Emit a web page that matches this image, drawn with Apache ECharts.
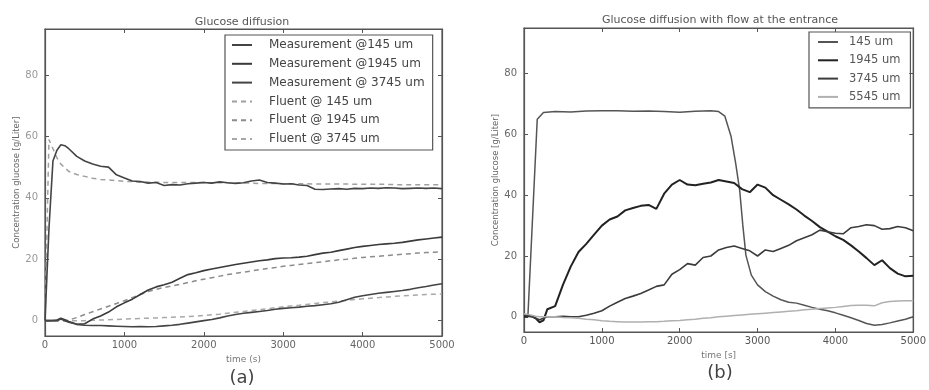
<!DOCTYPE html>
<html>
<head>
<meta charset="utf-8">
<script src="https://cdn.jsdelivr.net/npm/echarts@6/dist/echarts.min.js"></script>
<style>
  html, body { margin: 0; padding: 0; background: #fff; }
  #main { width: 929px; height: 390px; }
</style>
</head>
<body>
<div id="main"></div>
<script>
// time grid (s) for panel (a) and most of panel (b)
const timeGrid = [0, 50, 100, 150, 200, 250, 300,
  400, 500, 600, 700, 800, 900, 1000, 1100, 1200, 1300, 1400, 1500, 1600, 1700, 1800, 1900,
  2000, 2100, 2200, 2300, 2400, 2500, 2600, 2700, 2800, 2900, 3000, 3100, 3200, 3300, 3400,
  3500, 3600, 3700, 3800, 3900, 4000, 4100, 4200, 4300, 4400, 4500, 4600, 4700, 4800, 4900, 5000]

// panel (a) - glucose diffusion
const meas145 = [0, 30, 52, 55.5, 57.3, 57, 56,
  53.5, 52, 51, 50.3, 50, 47.5, 46.5, 45.5, 45.3, 44.8, 45, 44, 44.3, 44.2, 44.6, 44.8,
  45, 44.8, 45.2, 44.9, 44.7, 44.9, 45.5, 45.8, 45, 44.8, 44.5, 44.6, 44.2, 44, 42.8,
  42.7, 42.9, 43, 42.8, 43.1, 43, 43.2, 43.1, 43.3, 43.2, 43, 43.1, 43.2, 43.1, 43.2, 43]
const meas1945 = [0, 0, 0, 0.2, 0.8, 0.3, -0.3,
  -1.2, -1, 0.5, 1.5, 2.8, 4.5, 5.8, 7, 8.5, 10, 11, 11.7, 12.5, 13.8, 15, 15.6,
  16.3, 16.8, 17.3, 17.8, 18.3, 18.7, 19.1, 19.5, 19.8, 20.2, 20.4, 20.5, 20.7, 21, 21.5,
  22, 22.3, 22.8, 23.3, 23.8, 24.2, 24.5, 24.8, 25, 25.2, 25.5, 25.9, 26.3, 26.6, 26.9, 27.2]
const meas3745 = [0, 0, 0, 0, 0.5, 0, -0.5,
  -1.2, -1.5, -1.6, -1.6, -1.7, -1.8, -1.9, -2, -1.9, -2, -1.9, -1.7, -1.5, -1.2, -0.8, -0.4,
  0, 0.4, 0.9, 1.5, 2, 2.4, 2.7, 3, 3.3, 3.7, 4, 4.2, 4.4, 4.7, 4.9,
  5.2, 5.5, 6, 6.8, 7.6, 8.1, 8.5, 8.9, 9.2, 9.5, 9.8, 10.2, 10.7, 11.1, 11.6, 12]
const fluent145 = [0, 59, 56, 53, 51, 49.8, 48.6,
  47.6, 47, 46.4, 46, 45.8, 45.6, 45.4, 45.3, 45.2, 45.1, 45.1, 45, 45, 45, 45, 45,
  45, 44.9, 44.9, 44.9, 44.8, 44.8, 44.8, 44.7, 44.7, 44.7, 44.6, 44.6, 44.6, 44.6, 44.5,
  44.5, 44.5, 44.5, 44.5, 44.4, 44.4, 44.4, 44.4, 44.4, 44.3, 44.3, 44.3, 44.3, 44.3, 44.3, 44.3]
const fluent1945 = [0, 0, 0, 0, 0, 0, 0.2,
  1, 2, 2.9, 3.8, 4.7, 5.6, 6.5, 7.5, 8.5, 9.5, 10.2, 10.8, 11.3, 11.8, 12.4, 13,
  13.5, 14, 14.5, 15, 15.4, 15.8, 16.2, 16.6, 17, 17.3, 17.7, 18, 18.3, 18.6, 18.9,
  19.2, 19.5, 19.8, 20, 20.3, 20.6, 20.8, 21, 21.2, 21.4, 21.6, 21.8, 22, 22.2, 22.3, 22.5]
const fluent3745 = [0, 0, 0, 0, 0, 0, 0,
  0, 0, 0.1, 0.2, 0.3, 0.4, 0.5, 0.6, 0.7, 0.8, 0.9, 1, 1.1, 1.2, 1.3, 1.5,
  1.7, 1.9, 2.1, 2.4, 2.7, 3, 3.3, 3.6, 3.9, 4.2, 4.5, 4.8, 5, 5.3, 5.6,
  5.9, 6.1, 6.4, 6.6, 6.9, 7.1, 7.3, 7.5, 7.7, 7.9, 8.1, 8.2, 8.4, 8.5, 8.6, 8.7]

// panel (b) - with flow at the entrance
const time145 = [0, 50, 70, 170, 250, 400, 600, 800, 1000, 1200, 1400, 1600, 1800, 2000, 2200, 2400,
  2500, 2580, 2660, 2720, 2770, 2810, 2850, 2920,
  3000, 3100, 3200, 3300, 3400, 3500, 3600, 3700, 3800, 3900, 4000,
  4100, 4200, 4300, 4400, 4500, 4600, 4700, 4800, 4900, 5000]
const flow145 = [0.5, 0.2, 0, 65, 67.2, 67.5, 67.4, 67.7, 67.8, 67.8, 67.6, 67.7, 67.5, 67.3, 67.6, 67.8,
  67.5, 66, 59.3, 50.3, 41.7, 30.3, 20.3, 13.7,
  10.5, 8.3, 6.8, 5.6, 4.8, 4.5, 3.8, 3.1, 2.5, 2, 1.3,
  0.5, -0.3, -1.2, -2.2, -2.8, -2.5, -2, -1.4, -0.8, 0]
const flow1945 = [0, 0.2, 0.2, -0.5, -1.8, -1.2, 2.5,
  3.5, 10.5, 16.5, 21.3, 24, 27, 30, 32, 33, 35, 35.8, 36.5, 36.8, 35.5, 40.5, 43.5,
  45, 43.5, 43.3, 43.8, 44.2, 45, 44.5, 44, 42, 41, 43.5, 42.5, 40, 38.5, 37,
  35.3, 33.3, 31.5, 29.5, 28, 26.5, 25.3, 23.5, 21.5, 19.3, 17, 18.6, 16, 14.2, 13.3, 13.5]
const flow3745 = [0.5, 0.3, 0, -0.5, -1, -0.5, 0,
  0, 0.2, 0, 0, 0.5, 1.2, 2, 3.5, 4.8, 6, 6.8, 7.7, 8.8, 10, 10.5, 14,
  15.5, 17.5, 17, 19.5, 20, 22, 22.8, 23.3, 22.5, 21.7, 20, 22, 21.5, 22.5, 23.5,
  25, 26, 27, 28.5, 28, 27.5, 27.3, 29.3, 29.7, 30.3, 30, 28.8, 29, 29.7, 29.3, 28.3]
const flow5545 = [1, 0.8, 0.5, 0.2, 0, 0, 0,
  0, -0.2, -0.3, -0.5, -0.8, -1, -1.3, -1.5, -1.6, -1.7, -1.7, -1.7, -1.6, -1.6, -1.5, -1.3,
  -1.2, -1, -0.8, -0.5, -0.3, 0, 0.2, 0.4, 0.6, 0.8, 1, 1.2, 1.4, 1.6, 1.8,
  2, 2.3, 2.5, 2.7, 2.9, 3.1, 3.4, 3.7, 3.8, 3.8, 3.6, 4.6, 5, 5.2, 5.3, 5.3]

const yTicks = [0, 20, 40, 60, 80]

const zip = (xs, ys) => xs.map((x, i) => [x, ys[i]])

const font = 'DejaVu Sans'
const chart = echarts.init(document.getElementById('main'))

function xAx (grid, name, pos, labelColor) {
  const main = pos === 'bottom'
  return {
    type: 'value', gridIndex: grid, position: pos, min: 0, max: 5000, interval: 1000,
    name: main ? name : '', nameLocation: 'middle', nameGap: 15,
    nameTextStyle: { fontFamily: font, fontSize: 9, color: '#777' },
    axisLine: { show: true, onZero: false, lineStyle: { color: '#555', width: 1.2 } },
    axisTick: { show: true, inside: true, length: 4, lineStyle: { color: '#555' } },
    axisLabel: { show: main, margin: 4, fontFamily: font, fontSize: 10, color: labelColor,
      formatter: (v) => String(v) },
    splitLine: { show: false }
  }
}

function yAx (grid, name, pos, labelColor) {
  const main = pos === 'left'
  return {
    type: 'value', gridIndex: grid, position: pos, min: -5, max: 95,
    name: main ? name : '', nameLocation: 'middle', nameGap: 24, nameRotate: 90,
    nameTextStyle: { fontFamily: font, fontSize: 8.5, color: '#666' },
    axisLine: { show: true, onZero: false, lineStyle: { color: '#555', width: 1.2 } },
    axisTick: { show: true, inside: true, length: 4, customValues: yTicks, lineStyle: { color: '#555' } },
    axisLabel: { show: main, margin: 7, customValues: yTicks, fontFamily: font, fontSize: 10, color: labelColor },
    splitLine: { show: false }
  }
}

function line (name, x, y, xi, color, width, dashed) {
  return {
    name: name, type: 'line', xAxisIndex: xi, yAxisIndex: xi,
    data: zip(x, y), symbol: 'none', animation: false,
    lineStyle: { color: color, width: width, type: dashed ? [5, 4] : 'solid' },
    itemStyle: { color: color }
  }
}

const option = {
  backgroundColor: '#fff',
  animation: false,
  grid: [
    { left: 45, top: 29, width: 397, height: 307, show: true, borderColor: '#555', borderWidth: 1.2 },
    { left: 524, top: 28, width: 393, height: 304, show: true, borderColor: '#555', borderWidth: 1.2 }
  ],
  xAxis: [
    xAx(0, 'time (s)', 'bottom', '#666'),
    xAx(1, 'time [s]', 'bottom', '#555'),
    xAx(0, '', 'top', '#666'),
    xAx(1, '', 'top', '#555')
  ],
  yAxis: [
    yAx(0, 'Concentration glucose [g/Liter]', 'left', '#999'),
    yAx(1, 'Concentration glucose [g/Liter]', 'left', '#666'),
    yAx(0, '', 'right', '#999'),
    yAx(1, '', 'right', '#666')
  ],
  legend: [
    {
      left: 225, top: 35, orient: 'vertical', itemWidth: 20, itemHeight: 12, itemGap: 6.8,
      padding: [4, 8, 5, 6], borderColor: '#555', borderWidth: 1.2,
      itemStyle: { opacity: 0 },
      textStyle: { fontFamily: font, fontSize: 12, color: '#444', padding: [0, 0, 0, 12] },
      data: ['Measurement @145 um', 'Measurement @1945 um', 'Measurement @ 3745 um',
        'Fluent @ 145 um', 'Fluent @ 1945 um', 'Fluent @ 3745 um']
    },
    {
      left: 809, top: 32, orient: 'vertical', itemWidth: 20, itemHeight: 12, itemGap: 6.3,
      padding: [4, 10, 5, 8], borderColor: '#555', borderWidth: 1.2,
      itemStyle: { opacity: 0 },
      textStyle: { fontFamily: font, fontSize: 11.5, color: '#555', padding: [0, 0, 0, 6] },
      data: ['145 um', '1945 um', '3745 um', '5545 um']
    }
  ],
  graphic: [
    { type: 'text', x: 242, y: 22, style: { text: 'Glucose diffusion', font: '11px DejaVu Sans', fill: '#555', align: 'center', verticalAlign: 'middle' } },
    { type: 'text', x: 720, y: 20, style: { text: 'Glucose diffusion with flow at the entrance', font: '11px DejaVu Sans', fill: '#555', align: 'center', verticalAlign: 'middle' } },
    { type: 'text', x: 242, y: 378, style: { text: '(a)', font: '18px DejaVu Sans', fill: '#444', align: 'center', verticalAlign: 'middle' } },
    { type: 'text', x: 720, y: 373, style: { text: '(b)', font: '18px DejaVu Sans', fill: '#444', align: 'center', verticalAlign: 'middle' } }
  ],
  series: [
    line('Fluent @ 145 um', timeGrid, fluent145, 0, '#a0a0a0', 1.5, true),
    line('Fluent @ 1945 um', timeGrid, fluent1945, 0, '#8c8c8c', 1.5, true),
    line('Fluent @ 3745 um', timeGrid, fluent3745, 0, '#a8a8a8', 1.5, true),
    line('Measurement @145 um', timeGrid, meas145, 0, '#444', 1.6, false),
    line('Measurement @1945 um', timeGrid, meas1945, 0, '#3a3a3a', 1.6, false),
    line('Measurement @ 3745 um', timeGrid, meas3745, 0, '#444', 1.6, false),
    line('145 um', time145, flow145, 1, '#555', 1.5, false),
    line('1945 um', timeGrid, flow1945, 1, '#222', 2, false),
    line('3745 um', timeGrid, flow3745, 1, '#3c3c3c', 1.6, false),
    line('5545 um', timeGrid, flow5545, 1, '#b0b0b0', 1.5, false)
  ]
}

chart.setOption(option)
</script>
</body>
</html>
